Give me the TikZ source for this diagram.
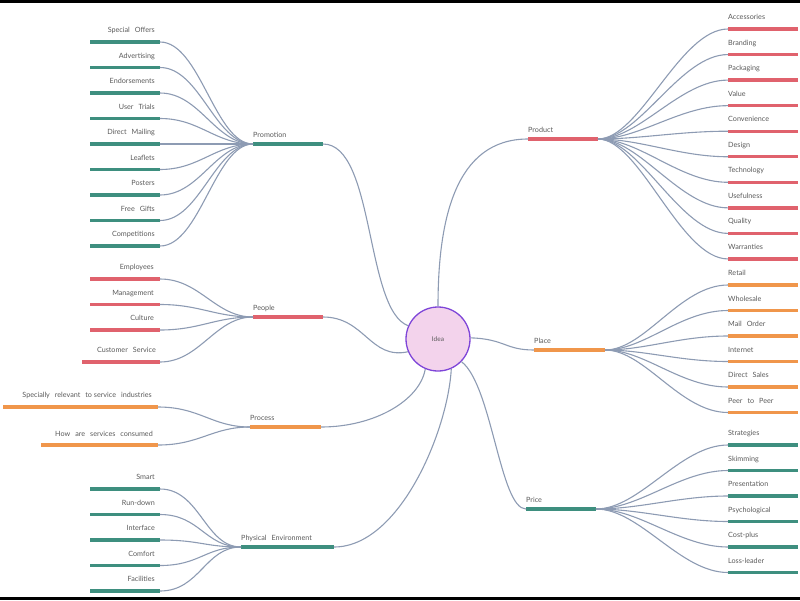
\documentclass[tikz,border=0pt]{standalone}
\usepackage{fontspec}
\setmainfont{Lato}
\definecolor{tealc}{HTML}{3E8F7F}
\definecolor{redc}{HTML}{E0626D}
\definecolor{orangec}{HTML}{F0964B}
\definecolor{connc}{HTML}{8D9BB3}
\definecolor{txtc}{HTML}{5A5A5A}
\definecolor{idpink}{HTML}{F3D3EC}
\definecolor{idpurple}{HTML}{7E45D8}
\newcommand\wgap{\hspace{5pt}}
\begin{document}
\begin{tikzpicture}[x=1pt,y=-1pt,
  bar/.style={line width=3.4pt,draw=#1},
  conn/.style={draw=connc,line width=1.1pt},
  clab/.style={font=\fontsize{7.2}{8}\selectfont,text=txtc,inner sep=0pt},
  tlab/.style={font=\fontsize{7.2}{8}\selectfont,text=txtc,inner sep=0pt,anchor=base west}]
\useasboundingbox (0,0) rectangle (800,600);
\fill[black] (0,0) rectangle (800,3);
\fill[black] (0,596.5) rectangle (800,600);

% centre
\node[circle,minimum size=64pt,inner sep=0pt,draw=idpurple,line width=1.3pt,fill=idpink,
  font=\fontsize{6.5}{8}\selectfont,text=txtc] (idea) at (438,339) {Idea};

% topics
\coordinate (promL) at (253,144); \coordinate (promR) at (323,144);
\coordinate (peopL) at (253,317); \coordinate (peopR) at (323,317);
\coordinate (procL) at (250,427); \coordinate (procR) at (321,427);
\coordinate (physL) at (241,547); \coordinate (physR) at (334,547);
\coordinate (prodL) at (528,139); \coordinate (prodR) at (598,139);
\coordinate (plaL) at (534,350); \coordinate (plaR) at (605,350);
\coordinate (priL) at (526,509); \coordinate (priR) at (596,509);

\draw[bar=tealc] (promL) -- (promR);
\draw[bar=redc] (peopL) -- (peopR);
\draw[bar=orangec] (procL) -- (procR);
\draw[bar=tealc] (physL) -- (physR);
\draw[bar=redc] (prodL) -- (prodR);
\draw[bar=orangec] (plaL) -- (plaR);
\draw[bar=tealc] (priL) -- (priR);

\node[tlab] (promT) at (253,137.5) {Promotion};
\node[tlab] (peopT) at (253,310.5) {People};
\node[tlab] (procT) at (250,420.5) {Process};
\node[tlab] (physT) at (241,540.5) {Physical\wgap Environment};
\node[tlab] (prodT) at (528,132.5) {Product};
\node[tlab] (plaT) at (534,343.5) {Place};
\node[tlab] (priT) at (526,502.5) {Price};

% centre to topics
\draw[conn] (idea.156) .. controls (365,310) and (375,144) .. (promR);
\draw[conn] (idea.203) .. controls (370,360) and (365,317) .. (peopR);
\draw[conn] (idea.247) .. controls (420,400) and (375,427) .. (procR);
\draw[conn] (idea.294) .. controls (448,430) and (400,547) .. (physR);
\draw[conn] (idea.90) .. controls (438,220) and (455,139) .. (prodL);
\draw[conn] (idea.2) .. controls (505,339) and (505,350) .. (plaL);
\draw[conn] (idea.316) .. controls (492,385) and (500,509) .. (priL);

% Promotion children
\foreach \t [count=\i] in {Special\wgap Offers,Advertising,Endorsements,User\wgap Trials,Direct\wgap Mailing,Leaflets,Posters,Free\wgap Gifts,Competitions}{
  \pgfmathsetmacro\yy{42+(\i-1)*25.5}
  \coordinate (pm\i L) at (90,\yy); \coordinate (pm\i R) at (160,\yy);
  \draw[bar=tealc] (pm\i L) -- (pm\i R);
  \node[clab,anchor=base east] (pm\i T) at (155,\yy-9.5) {\t};
  \draw[conn] (pm\i R) .. controls (200,\yy) and (215,144) .. (promL);
}
% People children
\foreach \t [count=\i] in {Employees,Management,Culture}{
  \pgfmathsetmacro\yy{279+(\i-1)*25.5}
  \coordinate (pe\i L) at (90,\yy); \coordinate (pe\i R) at (160,\yy);
  \draw[bar=redc] (pe\i L) -- (pe\i R);
  \node[clab,anchor=base east] (pe\i T) at (154,\yy-9.5) {\t};
  \draw[conn] (pe\i R) .. controls (200,\yy) and (215,317) .. (peopL);
}
\coordinate (pe4L) at (82,362); \coordinate (pe4R) at (160,362);
\draw[bar=redc] (pe4L) -- (pe4R);
\node[clab,anchor=base east] (pe4T) at (156,352.5) {Customer\wgap Service};
\draw[conn] (pe4R) .. controls (200,362) and (215,317) .. (peopL);

% Process children
\coordinate (pc1L) at (3,407); \coordinate (pc1R) at (158,407);
\draw[bar=orangec] (pc1L) -- (pc1R);
\node[clab,anchor=base east] (pc1T) at (152,397.5) {Specially\wgap relevant\wgap to service\wgap industries};
\draw[conn] (pc1R) .. controls (200,407) and (212,427) .. (procL);
\coordinate (pc2L) at (41,445); \coordinate (pc2R) at (158,445);
\draw[bar=orangec] (pc2L) -- (pc2R);
\node[clab,anchor=base east] (pc2T) at (153,436.5) {How\wgap are\wgap services\wgap consumed};
\draw[conn] (pc2R) .. controls (200,445) and (212,427) .. (procL);

% Physical children
\foreach \t [count=\i] in {Smart,Run-down,Interface,Comfort,Facilities}{
  \pgfmathsetmacro\yy{489+(\i-1)*25.5}
  \coordinate (ph\i L) at (90,\yy); \coordinate (ph\i R) at (160,\yy);
  \draw[bar=tealc] (ph\i L) -- (ph\i R);
  \node[clab,anchor=base east] (ph\i T) at (155,\yy-9.5) {\t};
  \draw[conn] (ph\i R) .. controls (200,\yy) and (205,547) .. (physL);
}

% Product children
\foreach \t [count=\i] in {Accessories,Branding,Packaging,Value,Convenience,Design,Technology,Usefulness,Quality,Warranties}{
  \pgfmathsetmacro\yy{29+(\i-1)*25.55}
  \coordinate (pd\i L) at (728,\yy); \coordinate (pd\i R) at (798,\yy);
  \draw[bar=redc] (pd\i L) -- (pd\i R);
  \node[clab,anchor=base west] (pd\i T) at (728,\yy-9.5) {\t};
  \draw[conn] (prodR) .. controls (640,139) and (680,\yy) .. (pd\i L);
}
% Place children
\foreach \t [count=\i] in {Retail,Wholesale,Mail\wgap Order,Internet,Direct\wgap Sales,Peer\wgap to\wgap Peer}{
  \pgfmathsetmacro\yy{285+(\i-1)*25.5}
  \coordinate (pl\i L) at (728,\yy); \coordinate (pl\i R) at (798,\yy);
  \draw[bar=orangec] (pl\i L) -- (pl\i R);
  \node[clab,anchor=base west] (pl\i T) at (728,\yy-9.5) {\t};
  \draw[conn] (plaR) .. controls (645,350) and (680,\yy) .. (pl\i L);
}
% Price children
\foreach \t [count=\i] in {Strategies,Skimming,Presentation,Psychological,Cost-plus,Loss-leader}{
  \pgfmathsetmacro\yy{445+(\i-1)*25.5}
  \coordinate (pr\i L) at (728,\yy); \coordinate (pr\i R) at (798,\yy);
  \draw[bar=tealc] (pr\i L) -- (pr\i R);
  \node[clab,anchor=base west] (pr\i T) at (728,\yy-9.5) {\t};
  \draw[conn] (priR) .. controls (640,509) and (680,\yy) .. (pr\i L);
}
\end{tikzpicture}
\end{document}
